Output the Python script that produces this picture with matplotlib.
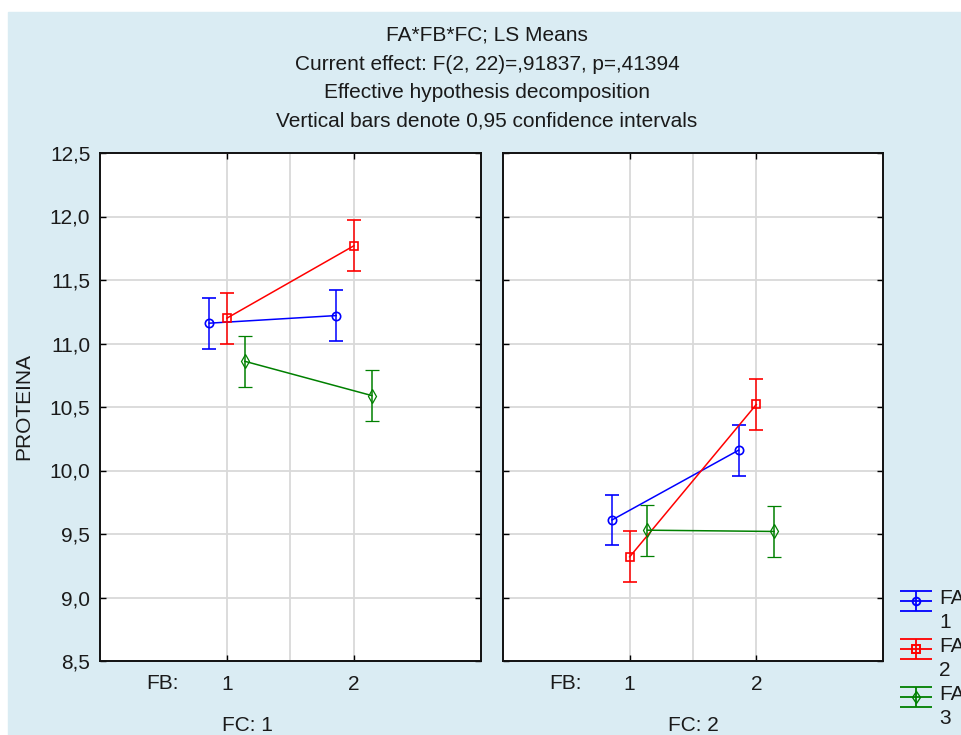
import matplotlib.pyplot as plt
from matplotlib.patches import Rectangle
from matplotlib.ticker import FuncFormatter

plt.rcParams["font.family"] = ["Liberation Sans", "DejaVu Sans"]

# LS means of PROTEINA by FA level, for FB = 1, 2, in each FC panel
fb_levels = [1, 2]
fa_labels = ["1", "2", "3"]
fc_labels = ["FC: 1", "FC: 2"]

fc1_means = [[11.16, 11.22], [11.20, 11.77], [10.86, 10.59]]
fc1_ci = [[0.20, 0.20], [0.20, 0.20], [0.20, 0.20]]
fc2_means = [[9.61, 10.16], [9.32, 10.52], [9.53, 9.52]]
fc2_ci = [[0.20, 0.20], [0.20, 0.20], [0.20, 0.20]]

colors = ["#0000ff", "#ff0000", "#008000"]
markers = ["o", "s", "d"]
offsets = [-0.14, 0.0, 0.14]

FS = 15
TXT = "#1a1a1a"

W, H = 962, 735
fig = plt.figure(figsize=(W / 100, H / 100), dpi=100, facecolor="white")
fig.patches.append(Rectangle((8 / W, 0), 1 - 8 / W, 1 - 12 / H,
                             transform=fig.transFigure, color="#daecf3", zorder=-5))

title_lines = [
    "FA*FB*FC; LS Means",
    "Current effect: F(2, 22)=,91837, p=,41394",
    "Effective hypothesis decomposition",
    "Vertical bars denote 0,95 confidence intervals",
]
for line, y in zip(title_lines, [35, 64, 92, 121]):
    fig.text(487 / W, 1 - y / H, line, ha="center", va="center", fontsize=FS, color=TXT)

fig.text(24 / W, 1 - 407 / H, "PROTEINA", rotation=90, ha="center", va="center",
         fontsize=FS, color=TXT)

comma = FuncFormatter(lambda v, pos: f"{v:.1f}".replace(".", ","))

panels = [(100, 381, fc1_means, fc1_ci, 0.386), (503, 380, fc2_means, fc2_ci, 0.50)]
axes = []
for i, (left, width, means, ci, fc_x) in enumerate(panels):
    ax = fig.add_axes([left / W, 74 / H, width / W, 508 / H])
    ax.set_facecolor("white")
    ax.set_xlim(0, 3)
    ax.set_ylim(8.5, 12.5)
    ax.set_yticks([8.5, 9.0, 9.5, 10.0, 10.5, 11.0, 11.5, 12.0, 12.5])
    ax.set_xticks(fb_levels)
    ax.set_xticklabels([str(v) for v in fb_levels])
    ax.yaxis.set_major_formatter(comma)
    ax.grid(True, color="#d9d9d9", lw=1.3)
    ax.axvline(1.5, color="#d9d9d9", lw=1.3, zorder=0.5)
    ax.set_axisbelow(True)
    ax.tick_params(direction="in", length=4, width=1, top=True, right=True,
                   labelsize=FS, labelcolor=TXT)
    ax.tick_params(axis="y", pad=7)
    ax.tick_params(axis="x", pad=10)
    for s in ax.spines.values():
        s.set_linewidth(1.4)
        s.set_color("#111111")
    if i == 1:
        ax.tick_params(labelleft=False)

    for k in range(3):
        xs = [fb + offsets[k] for fb in fb_levels]
        ax.errorbar(xs, means[k], yerr=ci[k], color=colors[k], lw=1.1,
                    marker=markers[k], ms=6 if markers[k] != "d" else 7,
                    mfc="none", mec=colors[k], mew=1.2 if markers[k] != "d" else 0.9,
                    capsize=4.7, capthick=1.1, elinewidth=1.1)

    ax.annotate("FB:", xy=(0.165, 0), xycoords="axes fraction", xytext=(0, -16),
                textcoords="offset points", ha="center", va="center", fontsize=FS,
                color=TXT)
    ax.annotate(fc_labels[i], xy=(fc_x, 0), xycoords="axes fraction", xytext=(0, -46.5),
                textcoords="offset points", ha="center", va="center", fontsize=FS,
                color=TXT)
    axes.append(ax)

# legend drawn by hand: errorbar symbol with caps as wide as the line
lax = fig.add_axes([0, 0, 1, 1])
lax.set_xlim(0, W)
lax.set_ylim(H, 0)
lax.axis("off")
lax.patch.set_alpha(0)
for k, yc in enumerate([601, 649, 697]):
    c = colors[k]
    lax.hlines([yc - 10, yc, yc + 10], 900, 932, color=c, lw=1.3)
    lax.vlines(916, yc - 10, yc + 10, color=c, lw=1.3)
    lax.plot([916], [yc], marker=markers[k], ms=5.5 if markers[k] != "d" else 6,
             mfc="none", mec=c, mew=1.4 if markers[k] != "d" else 1.0)
    lax.text(939, yc - 2, "FA", ha="left", va="center", fontsize=FS, color=TXT)
    lax.text(939, yc + 22, fa_labels[k], ha="left", va="center", fontsize=FS, color=TXT)

fig.savefig("out.png", dpi=100, facecolor=fig.get_facecolor())
